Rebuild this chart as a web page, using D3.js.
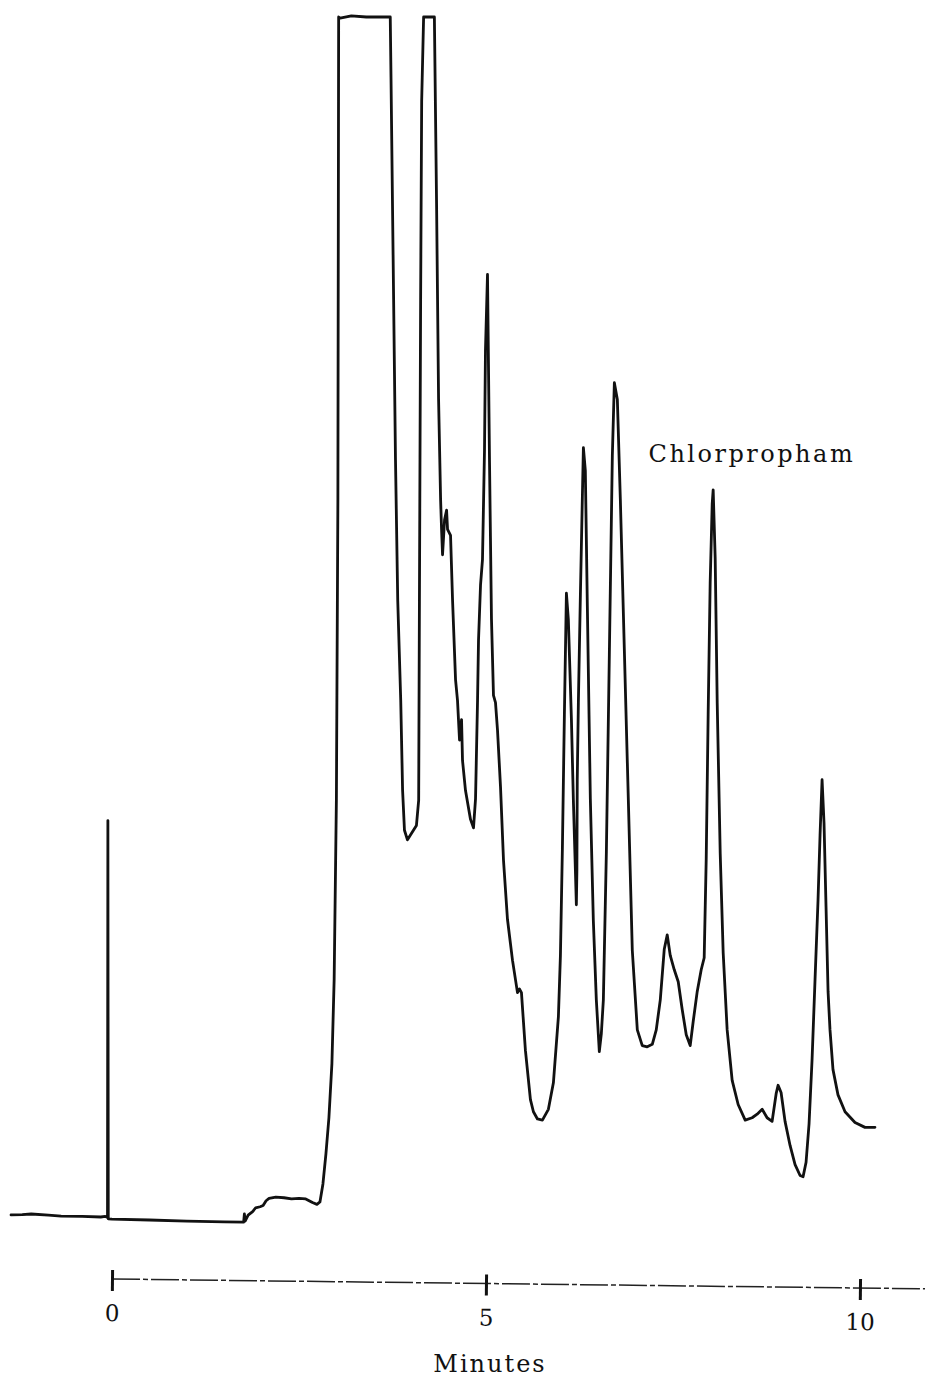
<!DOCTYPE html>
<html>
<head>
<meta charset="utf-8">
<script src="https://cdn.jsdelivr.net/npm/d3@7"></script>
<style>
  html, body { margin: 0; padding: 0; background: #fff; }
  svg { display: block; }
  text { font-family: "DejaVu Serif", "Liberation Serif", serif; fill: #111; }
</style>
</head>
<body>
<svg id="chart" width="934" height="1379"></svg>
<script>
// Gas chromatogram trace: retention time (minutes) vs detector response (% of recorder full scale)
const times = [
  -1.35, -1.20, -1.08, -0.85, -0.68, -0.40, -0.15, -0.09,
  -0.06, -0.055, -0.05,
  0.00, 0.50, 1.00, 1.50, 1.76, 1.77, 1.78,
  1.82, 1.88, 1.92, 1.98, 2.02, 2.06, 2.10, 2.19, 2.30, 2.40, 2.50, 2.59, 2.68, 2.74, 2.78,
  2.82, 2.86, 2.90, 2.94, 2.97, 3.00, 3.02, 3.03,
  3.05, 3.20, 3.40, 3.72,
  3.73, 3.765, 3.79, 3.82, 3.86, 3.885, 3.91, 3.95, 3.99, 4.03, 4.07, 4.10, 4.11, 4.126, 4.14, 4.166,
  4.31, 4.312, 4.34, 4.366, 4.393, 4.406, 4.419, 4.446, 4.473, 4.486, 4.526, 4.553, 4.593, 4.619,
  4.646, 4.673, 4.686, 4.726, 4.793, 4.833, 4.86, 4.887, 4.90, 4.927, 4.953, 4.98, 4.993, 5.02,
  5.047, 5.073, 5.10, 5.127, 5.154, 5.194, 5.234, 5.287, 5.354, 5.421, 5.447, 5.474, 5.527, 5.594,
  5.634, 5.688, 5.754, 5.834, 5.901, 5.968, 5.995, 6.021, 6.048, 6.075, 6.101, 6.142, 6.168, 6.195,
  6.208, 6.215, 6.22, 6.235, 6.262, 6.288, 6.302, 6.328, 6.355, 6.395, 6.435, 6.475, 6.515, 6.542,
  6.569, 6.609, 6.649, 6.689, 6.716, 6.756, 6.796, 6.849, 6.903, 6.956, 7.023, 7.089, 7.156, 7.223,
  7.276, 7.33, 7.383, 7.423, 7.463, 7.517, 7.57, 7.623, 7.677, 7.73, 7.77, 7.824, 7.877, 7.917,
  7.944, 7.97, 7.997, 8.024, 8.037, 8.064, 8.091, 8.131, 8.171, 8.224, 8.291, 8.371, 8.465, 8.558,
  8.625, 8.692, 8.758, 8.825, 8.879, 8.905, 8.945, 8.998, 9.065, 9.132, 9.199, 9.239, 9.279, 9.319,
  9.359, 9.399, 9.439, 9.466, 9.493, 9.519, 9.546, 9.573, 9.599, 9.639, 9.706, 9.80, 9.933, 10.067, 10.20
];
const response = [
  0.42, 0.45, 0.50, 0.40, 0.33, 0.30, 0.25, 0.30,
  0.20, 33.2, 0.10,
  0.08, 0.00, -0.10, -0.15, -0.17, 0.50, -0.10,
  0.40, 0.70, 1.00, 1.10, 1.20, 1.60, 1.80, 1.90, 1.85, 1.75, 1.80, 1.75, 1.45, 1.30, 1.50,
  3.0, 5.5, 8.5, 13.0, 20.0, 35.0, 60.0, 100.0,
  99.9, 100.1, 100.0, 100.0,
  95.0, 76.5, 63.2, 51.5, 43.2, 35.7, 32.4, 31.6, 32.0, 32.4, 32.8, 34.9, 51.5, 76.5, 93.0, 100.0,
  100.0, 98.9, 84.0, 68.2, 59.9, 57.4, 55.3, 58.2, 59.0, 57.4, 56.9, 51.5, 44.9, 43.2,
  39.9, 41.6, 38.2, 35.7, 33.3, 32.6, 35.0, 43.2, 48.2, 52.8, 54.9, 64.0, 72.3, 78.6,
  63.0, 50.0, 43.6, 43.0, 40.7, 36.0, 29.9, 25.0, 21.6, 18.9, 19.2, 18.9, 14.1, 10.0,
  9.0, 8.4, 8.3, 9.2, 11.4, 16.9, 22.0, 30.8, 42.0, 52.1, 49.9, 41.6, 34.9, 29.1,
  26.2, 29.0, 36.6, 43.0, 52.0, 60.0, 64.2, 62.3, 51.0, 35.0, 24.9, 18.3, 14.0, 15.5,
  18.3, 30.5, 47.0, 63.5, 69.6, 68.2, 59.9, 47.5, 34.9, 22.4, 15.8, 14.5, 14.4, 14.6,
  15.8, 18.3, 22.5, 23.7, 22.0, 20.8, 19.8, 17.5, 15.4, 14.5, 16.5, 19.0, 20.8, 21.8,
  30.0, 42.0, 53.0, 59.5, 60.7, 55.0, 43.0, 30.5, 22.2, 15.8, 11.6, 9.6, 8.3, 8.5,
  8.8, 9.2, 8.5, 8.2, 10.5, 11.2, 10.6, 8.2, 6.2, 4.6, 3.7, 3.6, 4.8, 8.0,
  13.3, 20.0, 26.6, 32.0, 36.6, 33.0, 26.0, 19.0, 15.8, 12.5, 10.4, 9.0, 8.1, 7.7, 7.7
];
const tickValues = [0, 5, 10];
const axisTitle = "Minutes";
const peakLabel = { text: "Chlorpropham", time: 7.2, response: 63.0 };

const svg = d3.select("#chart");

const x = d3.scaleLinear().domain([0, 10]).range([112, 860]);
const y = d3.scaleLinear().domain([0, 100]).range([1220, 17]);

const points = times.map((t, i) => [t, response[i]]);

const line = d3.line()
  .x(d => x(d[0]))
  .y(d => y(d[1]))
  .curve(d3.curveLinear);

svg.append("path")
  .datum(points)
  .attr("d", line)
  .attr("fill", "none")
  .attr("stroke", "#111")
  .attr("stroke-width", 2.8)
  .attr("stroke-linejoin", "round")
  .attr("stroke-linecap", "round");

// Time axis: chart-paper timing line, drawn slightly skewed as on the recorder strip
const axisY = 1279;
const axisG = svg.append("g")
  .attr("transform", `translate(0,${axisY}) rotate(0.69, ${x(0)}, 0)`);

axisG.append("line")
  .attr("x1", x(0)).attr("x2", x(10.87))
  .attr("y1", 0).attr("y2", 0)
  .attr("stroke", "#222")
  .attr("stroke-width", 1.5)
  .attr("stroke-dasharray", "28 3 5 3");

const axis = d3.axisBottom(x)
  .tickValues(tickValues)
  .tickSize(0)
  .tickPadding(0)
  .tickFormat(d3.format("d"));

axisG.call(axis);
axisG.select(".domain").remove();
axisG.selectAll(".tick text")
  .attr("y", 0)
  .attr("dy", 42)
  .attr("font-size", 23)
  .attr("font-family", "DejaVu Serif, serif")
  .attr("fill", "#111");
axisG.selectAll(".tick").append("line")
  .attr("y1", -9).attr("y2", 12)
  .attr("stroke", "#111")
  .attr("stroke-width", 3);

svg.append("text")
  .attr("x", 490)
  .attr("y", 1372)
  .attr("text-anchor", "middle")
  .attr("font-size", 24)
  .attr("letter-spacing", 2)
  .text(axisTitle);

svg.append("text")
  .attr("x", x(peakLabel.time) - 2)
  .attr("y", y(peakLabel.response))
  .attr("font-size", 24)
  .attr("letter-spacing", 2.5)
  .text(peakLabel.text);
</script>
</body>
</html>
